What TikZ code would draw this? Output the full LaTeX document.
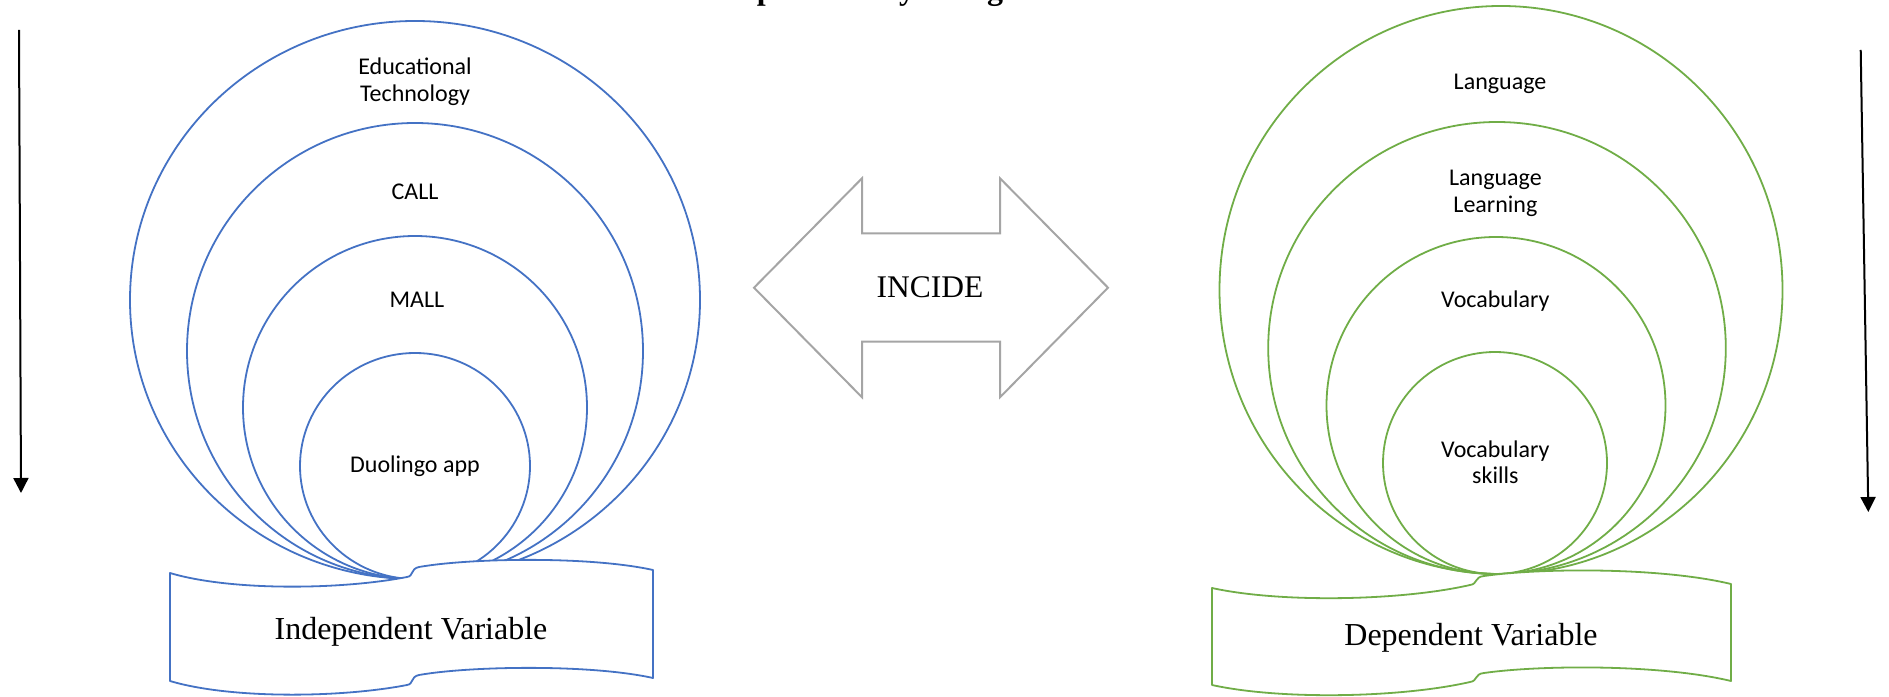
\documentclass[tikz,border=0pt]{standalone}
\usepackage{fontspec}
\setmainfont{Liberation Serif}
\newfontfamily\calfont{Carlito}
\usetikzlibrary{arrows.meta}
\definecolor{cblue}{HTML}{4472C4}
\definecolor{cgreen}{HTML}{70AD47}
\definecolor{cgray}{HTML}{A5A5A5}
\begin{document}
\begin{tikzpicture}[x=1pt,y=1pt,
  bluel/.style={draw=cblue, line width=1.8pt},
  greenl/.style={draw=cgreen, line width=1.8pt},
  lab/.style={font=\calfont\fontsize{24}{28}\selectfont, anchor=base, inner sep=0pt, text=black},
  big/.style={font=\fontsize{32}{38}\selectfont, anchor=base, inner sep=0pt, text=black},
  vline/.style={line width=2pt, draw=black, -{Triangle[length=15pt,width=15pt]}}]
\useasboundingbox (0,0) rectangle (1889,696);

% title (cut off at the top edge)
\node[big, font=\bfseries\fontsize{32}{38}\selectfont] (title) at (885.4,696) {Graph of Study Categories};

% side arrows
\coordinate (la1) at (19,666);
\coordinate (la2) at (21,203);
\draw[vline] (la1) -- (la2);
\coordinate (ra1) at (1860.7,646);
\coordinate (ra2) at (1868.3,184);
\draw[vline] (ra1) -- (ra2);

% blue nested circles
\draw[bluel] (415,396) ellipse [x radius=285, y radius=279];
\draw[bluel] (415,345) ellipse [x radius=228, y radius=228];
\draw[bluel] (415,288.5) ellipse [x radius=172, y radius=171.5];
\draw[bluel] (415,230) ellipse [x radius=115, y radius=113];

% green nested circles
\draw[greenl] (1501,406) ellipse [x radius=281.5, y radius=284];
\draw[greenl] (1497,348) ellipse [x radius=228.8, y radius=226];
\draw[greenl] (1496,290.5) ellipse [x radius=169.5, y radius=168.5];
\draw[greenl] (1495,233) ellipse [x radius=112, y radius=111];

% blue banner
\draw[bluel, fill=white, line join=round]
  (170,123) .. controls (230,105) and (340,106) .. (407,119)
  .. controls (414,120) and (410,127) .. (419,129)
  .. controls (470,138) and (590,140) .. (653,126)
  -- (653,18)
  .. controls (590,32) and (470,30) .. (419,21)
  .. controls (410,19) and (414,12) .. (407,11)
  .. controls (340,-2) and (230,-3) .. (170,15)
  -- cycle;

% green banner
\draw[greenl, fill=white, line join=round]
  (1212,108) .. controls (1280,93) and (1400,95) .. (1470,111)
  .. controls (1478,112) and (1474,119) .. (1484,120)
  .. controls (1540,128) and (1660,129) .. (1731,112)
  -- (1731,15)
  .. controls (1660,32) and (1540,31) .. (1484,23)
  .. controls (1474,22) and (1478,15) .. (1470,14)
  .. controls (1400,-2) and (1280,-4) .. (1212,11)
  -- cycle;

% central double arrow
\draw[draw=cgray, line width=2pt, fill=white, line join=miter]
  (754,408.3) -- (862,517.7) -- (862,462.7) -- (1000,462.7) -- (1000,517.7)
  -- (1108,408.3) -- (1000,298.7) -- (1000,354.3) -- (862,354.3) -- (862,298.7) -- cycle;
\node[big, font=\fontsize{31.5}{38}\selectfont] (incide) at (930,398.7) {INCIDE};

% blue labels
\node[lab] (ed1) at (415,621.7) {Educational};
\node[lab] (ed2) at (415,594.6) {Technology};
\node[lab] (call) at (415,496.7) {CALL};
\node[lab] (mall) at (417,388.1) {MALL};
\node[lab] (duo) at (415,223) {Duolingo app};
\node[big] (indep) at (411,57) {Independent Variable};

% green labels
\node[lab] (lang) at (1500,606.4) {Language};
\node[lab] (ll1) at (1495.4,510) {Language};
\node[lab] (ll2) at (1495.4,483.1) {Learning};
\node[lab] (voc) at (1495.3,388.5) {Vocabulary};
\node[lab] (vs1) at (1495.3,238.5) {Vocabulary};
\node[lab] (vs2) at (1495.3,212.8) {skills};
\node[big] (dep) at (1471,51) {Dependent Variable};
\end{tikzpicture}
\end{document}
